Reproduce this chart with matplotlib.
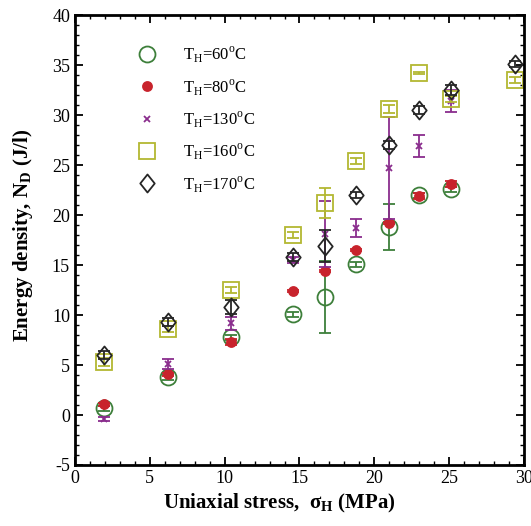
import numpy as np
import matplotlib.pyplot as plt
from matplotlib.lines import Line2D
from matplotlib.path import Path

plt.rcParams['font.family'] = ['Liberation Serif', 'DejaVu Serif']
plt.rcParams['mathtext.fontset'] = 'custom'
plt.rcParams['mathtext.rm'] = 'Liberation Serif'
plt.rcParams['mathtext.bf'] = 'Liberation Serif:bold'
plt.rcParams['axes.unicode_minus'] = False

# stress positions (MPa) and energy density (J/l)
x_60 = [1.95, 6.2, 10.4, 14.6, 16.7, 18.8, 21.0, 23.0, 25.1]
y_60 = [0.7, 3.8, 7.8, 10.1, 11.8, 15.1, 18.8, 22.0, 22.6]
e_60 = [0.25, 0.25, 0.25, 0.25, 3.6, 0.25, 2.3, 0.25, 0.25]

x_80 = [1.95, 6.2, 10.4, 14.6, 16.7, 18.8, 21.0, 23.0, 25.1]
y_80 = [1.1, 4.1, 7.3, 12.4, 14.4, 16.5, 19.2, 21.9, 23.1]
e_80 = [0.15, 0.15, 0.3, 0.1, 0.1, 0.1, 0.1, 0.3, 0.3]

x_130 = [1.95, 6.2, 10.4, 14.6, 16.7, 18.8, 21.0, 23.0, 25.1]
y_130 = [-0.4, 5.1, 9.2, 15.5, 18.1, 18.7, 24.7, 26.9, 31.4]
e_130 = [0.2, 0.5, 0.65, 0.3, 3.3, 0.9, 5.1, 1.1, 1.1]

x_160 = [1.95, 6.2, 10.4, 14.6, 16.7, 18.8, 21.0, 23.0, 25.1, 29.4]
y_160 = [5.3, 8.6, 12.5, 18.0, 21.2, 25.4, 30.6, 34.2, 31.6, 33.5]
e_160 = [0.4, 0.3, 0.3, 0.3, 1.5, 0.3, 0.4, 0.1, 0.3, 0.3]

x_170 = [1.95, 6.2, 10.4, 14.6, 16.7, 18.8, 21.0, 23.0, 25.1, 29.4]
y_170 = [6.0, 9.3, 10.8, 15.8, 16.9, 22.0, 27.0, 30.5, 32.5, 35.1]
e_170 = [0.4, 0.4, 0.7, 0.4, 1.6, 0.3, 0.4, 0.4, 0.5, 0.3]

labels = ['60', '80', '130', '160', '170']

# slightly narrow diamond
diamond = Path([(0, -1), (0.8, 0), (0, 1), (-0.8, 0), (0, -1)],
               [Path.MOVETO, Path.LINETO, Path.LINETO, Path.LINETO, Path.CLOSEPOLY])

fig, ax = plt.subplots(figsize=(5.31, 5.26), dpi=100)
fig.subplots_adjust(left=0.141, right=0.987, top=0.971, bottom=0.116)

series = [
    (x_60, y_60, e_60, 'o', '#3d7f3a', 'none', 11.5),
    (x_80, y_80, e_80, 'o', '#c8232c', '#c8232c', 6.5),
    (x_130, y_130, e_130, 'x', '#8a2d8d', '#8a2d8d', 5),
    (x_160, y_160, e_160, 's', '#b3b832', 'none', 12),
    (x_170, y_170, e_170, diamond, '#262626', 'none', 13),
]
handles = []
for (xs, ys, es, m, c, fc, ms), t in zip(series, labels):
    ax.errorbar(xs, ys, yerr=es, fmt='none', ecolor=c, elinewidth=1.3,
                capsize=4, capthick=1.3)
    ax.plot(xs, ys, ls='none', marker=m, color=c, mfc=fc, mec=c, ms=ms, mew=1.3)
    handles.append(Line2D([], [], ls='none', marker=m, color=c, mfc=fc, mec=c,
                          ms=ms, mew=1.3,
                          label=r'T$_\mathregular{H}$=' + t + r'$^\mathregular{o}$C'))

ax.set_xlim(0, 30)
ax.set_ylim(-5, 40)
ax.set_xticks(np.arange(0, 31, 5))
ax.set_yticks(np.arange(-5, 41, 5))
ax.set_xticks(np.arange(0, 31, 1), minor=True)
ax.set_yticks(np.arange(-5, 41, 1), minor=True)
ax.tick_params(which='both', direction='in', top=True, right=True, labelsize=13)
ax.tick_params(which='major', length=6, width=1.3)
ax.tick_params(which='minor', length=3, width=1)
for s in ax.spines.values():
    s.set_linewidth(2)

ax.set_xlabel(r'Uniaxial stress,  $\mathbf{\sigma_H}$ (MPa)', fontsize=15,
              fontweight='bold', x=0.455)
ax.set_ylabel(r'Energy density, N$_\mathbf{D}$ (J/l)', fontsize=15,
              fontweight='bold', labelpad=12, y=0.51)

ax.legend(handles=handles, loc='upper left', bbox_to_anchor=(0.105, 0.953),
          frameon=False, fontsize=12, labelspacing=0.72, handletextpad=1.15,
          borderpad=0)

fig.savefig('out.png', dpi=100)
